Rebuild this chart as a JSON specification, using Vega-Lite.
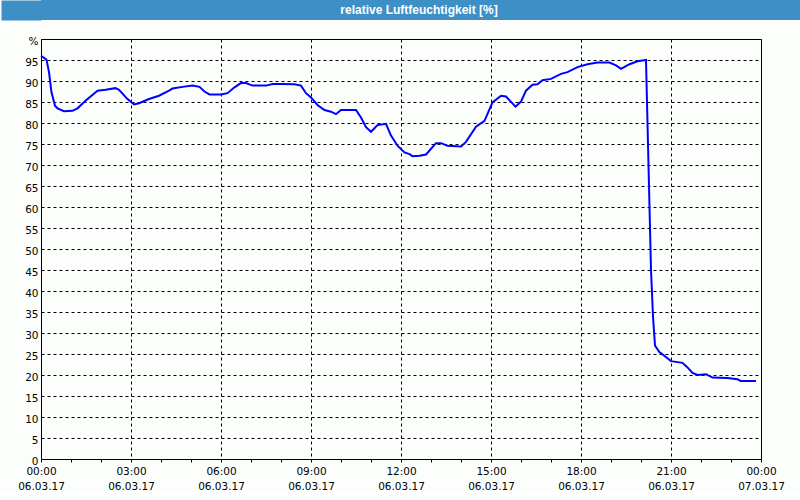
{
  "$schema": "https://vega.github.io/schema/vega-lite/v6.json",
  "padding": 0,
  "background": "#fcfefc",
  "spacing": 15,
  "config": {"view": {"stroke": null}, "font": "DejaVu Sans"},
  "vconcat": [
    {
      "width": 760,
      "height": 20,
      "view": {"fill": "#3d8fc6", "stroke": null},
      "data": {"values": [{"title": "relative Luftfeuchtigkeit [%]"}]},
      "mark": {"type": "text", "color": "#ffffff", "font": "Liberation Sans", "fontWeight": "bold", "fontSize": 12, "dx": -2},
      "encoding": {
        "text": {"field": "title", "type": "nominal"},
        "y": {
          "datum": 0,
          "type": "quantitative",
          "scale": {"domain": [-1, 1]},
          "axis": {"title": null, "labels": false, "ticks": false, "grid": false, "domainColor": "#3d8fc6", "domainWidth": 40, "domainCap": "butt", "offset": 20, "minExtent": 0, "maxExtent": 0}
        }
      }
    },
    {
      "width": 720,
      "height": 420,
      "view": {"stroke": "#000000", "strokeWidth": 1, "fill": "#fcfefc"},
      "data": {
        "values": [
          {"time": "2017-03-06T00:00:00Z", "rh": 96.0},
          {"time": "2017-03-06T00:11:00Z", "rh": 95.1},
          {"time": "2017-03-06T00:16:00Z", "rh": 92.1},
          {"time": "2017-03-06T00:21:00Z", "rh": 87.3},
          {"time": "2017-03-06T00:28:00Z", "rh": 84.1},
          {"time": "2017-03-06T00:33:00Z", "rh": 83.5},
          {"time": "2017-03-06T00:46:00Z", "rh": 82.8},
          {"time": "2017-03-06T01:03:00Z", "rh": 82.9},
          {"time": "2017-03-06T01:13:00Z", "rh": 83.5},
          {"time": "2017-03-06T01:29:00Z", "rh": 85.3},
          {"time": "2017-03-06T01:53:00Z", "rh": 87.7},
          {"time": "2017-03-06T02:09:00Z", "rh": 87.9},
          {"time": "2017-03-06T02:29:00Z", "rh": 88.3},
          {"time": "2017-03-06T02:36:00Z", "rh": 87.9},
          {"time": "2017-03-06T02:53:00Z", "rh": 85.7},
          {"time": "2017-03-06T03:06:00Z", "rh": 84.4},
          {"time": "2017-03-06T03:16:00Z", "rh": 84.7},
          {"time": "2017-03-06T03:36:00Z", "rh": 85.7},
          {"time": "2017-03-06T03:56:00Z", "rh": 86.5},
          {"time": "2017-03-06T04:16:00Z", "rh": 87.7},
          {"time": "2017-03-06T04:23:00Z", "rh": 88.2},
          {"time": "2017-03-06T04:43:00Z", "rh": 88.6},
          {"time": "2017-03-06T05:03:00Z", "rh": 88.9},
          {"time": "2017-03-06T05:17:00Z", "rh": 88.6},
          {"time": "2017-03-06T05:27:00Z", "rh": 87.5},
          {"time": "2017-03-06T05:37:00Z", "rh": 86.8},
          {"time": "2017-03-06T06:00:00Z", "rh": 86.8},
          {"time": "2017-03-06T06:13:00Z", "rh": 87.1},
          {"time": "2017-03-06T06:27:00Z", "rh": 88.5},
          {"time": "2017-03-06T06:40:00Z", "rh": 89.5},
          {"time": "2017-03-06T06:50:00Z", "rh": 89.5},
          {"time": "2017-03-06T07:03:00Z", "rh": 88.9},
          {"time": "2017-03-06T07:30:00Z", "rh": 88.9},
          {"time": "2017-03-06T07:43:00Z", "rh": 89.3},
          {"time": "2017-03-06T08:00:00Z", "rh": 89.3},
          {"time": "2017-03-06T08:27:00Z", "rh": 89.2},
          {"time": "2017-03-06T08:40:00Z", "rh": 88.9},
          {"time": "2017-03-06T08:50:00Z", "rh": 87.1},
          {"time": "2017-03-06T09:00:00Z", "rh": 86.1},
          {"time": "2017-03-06T09:13:00Z", "rh": 84.3},
          {"time": "2017-03-06T09:27:00Z", "rh": 83.1},
          {"time": "2017-03-06T09:40:00Z", "rh": 82.7},
          {"time": "2017-03-06T09:50:00Z", "rh": 82.1},
          {"time": "2017-03-06T10:00:00Z", "rh": 83.1},
          {"time": "2017-03-06T10:30:00Z", "rh": 83.1},
          {"time": "2017-03-06T10:40:00Z", "rh": 81.3},
          {"time": "2017-03-06T10:50:00Z", "rh": 79.0},
          {"time": "2017-03-06T11:00:00Z", "rh": 77.9},
          {"time": "2017-03-06T11:13:00Z", "rh": 79.5},
          {"time": "2017-03-06T11:30:00Z", "rh": 79.8},
          {"time": "2017-03-06T11:40:00Z", "rh": 77.0},
          {"time": "2017-03-06T11:53:00Z", "rh": 74.6},
          {"time": "2017-03-06T12:07:00Z", "rh": 73.0},
          {"time": "2017-03-06T12:17:00Z", "rh": 72.6},
          {"time": "2017-03-06T12:23:00Z", "rh": 72.1},
          {"time": "2017-03-06T12:37:00Z", "rh": 72.2},
          {"time": "2017-03-06T12:50:00Z", "rh": 72.5},
          {"time": "2017-03-06T13:10:00Z", "rh": 75.2},
          {"time": "2017-03-06T13:20:00Z", "rh": 75.2},
          {"time": "2017-03-06T13:33:00Z", "rh": 74.6},
          {"time": "2017-03-06T14:00:00Z", "rh": 74.4},
          {"time": "2017-03-06T14:10:00Z", "rh": 75.5},
          {"time": "2017-03-06T14:30:00Z", "rh": 79.1},
          {"time": "2017-03-06T14:47:00Z", "rh": 80.5},
          {"time": "2017-03-06T15:03:00Z", "rh": 84.9},
          {"time": "2017-03-06T15:20:00Z", "rh": 86.5},
          {"time": "2017-03-06T15:30:00Z", "rh": 86.3},
          {"time": "2017-03-06T15:49:00Z", "rh": 83.9},
          {"time": "2017-03-06T16:00:00Z", "rh": 85.1},
          {"time": "2017-03-06T16:10:00Z", "rh": 87.7},
          {"time": "2017-03-06T16:23:00Z", "rh": 89.1},
          {"time": "2017-03-06T16:33:00Z", "rh": 89.2},
          {"time": "2017-03-06T16:43:00Z", "rh": 90.2},
          {"time": "2017-03-06T17:00:00Z", "rh": 90.5},
          {"time": "2017-03-06T17:20:00Z", "rh": 91.7},
          {"time": "2017-03-06T17:33:00Z", "rh": 92.1},
          {"time": "2017-03-06T17:53:00Z", "rh": 93.3},
          {"time": "2017-03-06T18:13:00Z", "rh": 94.0},
          {"time": "2017-03-06T18:33:00Z", "rh": 94.4},
          {"time": "2017-03-06T18:57:00Z", "rh": 94.4},
          {"time": "2017-03-06T19:10:00Z", "rh": 93.7},
          {"time": "2017-03-06T19:20:00Z", "rh": 92.9},
          {"time": "2017-03-06T19:37:00Z", "rh": 94.0},
          {"time": "2017-03-06T19:53:00Z", "rh": 94.7},
          {"time": "2017-03-06T20:10:00Z", "rh": 95.0},
          {"time": "2017-03-06T20:12:00Z", "rh": 85.0},
          {"time": "2017-03-06T20:14:00Z", "rh": 75.0},
          {"time": "2017-03-06T20:16:00Z", "rh": 65.0},
          {"time": "2017-03-06T20:18:00Z", "rh": 55.0},
          {"time": "2017-03-06T20:20:00Z", "rh": 45.0},
          {"time": "2017-03-06T20:24:00Z", "rh": 34.0},
          {"time": "2017-03-06T20:28:00Z", "rh": 27.0},
          {"time": "2017-03-06T20:37:00Z", "rh": 25.4},
          {"time": "2017-03-06T20:40:00Z", "rh": 25.2},
          {"time": "2017-03-06T20:53:00Z", "rh": 24.0},
          {"time": "2017-03-06T21:00:00Z", "rh": 23.3},
          {"time": "2017-03-06T21:23:00Z", "rh": 22.9},
          {"time": "2017-03-06T21:33:00Z", "rh": 21.8},
          {"time": "2017-03-06T21:43:00Z", "rh": 20.5},
          {"time": "2017-03-06T21:53:00Z", "rh": 20.0},
          {"time": "2017-03-06T22:10:00Z", "rh": 20.2},
          {"time": "2017-03-06T22:23:00Z", "rh": 19.4},
          {"time": "2017-03-06T22:53:00Z", "rh": 19.3},
          {"time": "2017-03-06T23:13:00Z", "rh": 19.0},
          {"time": "2017-03-06T23:19:00Z", "rh": 18.6},
          {"time": "2017-03-06T23:50:00Z", "rh": 18.6}
        ]
      },
      "mark": {"type": "line", "color": "#0000ff", "strokeWidth": 2},
      "encoding": {
        "x": {
          "field": "time",
          "type": "temporal",
          "scale": {
            "type": "utc",
            "nice": false,
            "domain": [
              {"year": 2017, "month": 3, "date": 6, "utc": true},
              {"year": 2017, "month": 3, "date": 7, "utc": true}
            ]
          },
          "axis": {
            "title": null,
            "values": [
              {"year": 2017, "month": 3, "date": 6, "hours": 0, "utc": true},
              {"year": 2017, "month": 3, "date": 6, "hours": 1, "utc": true},
              {"year": 2017, "month": 3, "date": 6, "hours": 2, "utc": true},
              {"year": 2017, "month": 3, "date": 6, "hours": 3, "utc": true},
              {"year": 2017, "month": 3, "date": 6, "hours": 4, "utc": true},
              {"year": 2017, "month": 3, "date": 6, "hours": 5, "utc": true},
              {"year": 2017, "month": 3, "date": 6, "hours": 6, "utc": true},
              {"year": 2017, "month": 3, "date": 6, "hours": 7, "utc": true},
              {"year": 2017, "month": 3, "date": 6, "hours": 8, "utc": true},
              {"year": 2017, "month": 3, "date": 6, "hours": 9, "utc": true},
              {"year": 2017, "month": 3, "date": 6, "hours": 10, "utc": true},
              {"year": 2017, "month": 3, "date": 6, "hours": 11, "utc": true},
              {"year": 2017, "month": 3, "date": 6, "hours": 12, "utc": true},
              {"year": 2017, "month": 3, "date": 6, "hours": 13, "utc": true},
              {"year": 2017, "month": 3, "date": 6, "hours": 14, "utc": true},
              {"year": 2017, "month": 3, "date": 6, "hours": 15, "utc": true},
              {"year": 2017, "month": 3, "date": 6, "hours": 16, "utc": true},
              {"year": 2017, "month": 3, "date": 6, "hours": 17, "utc": true},
              {"year": 2017, "month": 3, "date": 6, "hours": 18, "utc": true},
              {"year": 2017, "month": 3, "date": 6, "hours": 19, "utc": true},
              {"year": 2017, "month": 3, "date": 6, "hours": 20, "utc": true},
              {"year": 2017, "month": 3, "date": 6, "hours": 21, "utc": true},
              {"year": 2017, "month": 3, "date": 6, "hours": 22, "utc": true},
              {"year": 2017, "month": 3, "date": 6, "hours": 23, "utc": true},
              {"year": 2017, "month": 3, "date": 7, "hours": 0, "utc": true}
            ],
            "grid": true,
            "gridColor": "#000000",
            "gridDash": [3, 3],
            "gridOpacity": {"condition": {"test": "utchours(datum.value) % 3 == 0", "value": 1}, "value": 0},
            "tickSize": 3,
            "tickColor": "#000000",
            "domainColor": "#000000",
            "labelExpr": "utchours(datum.value) % 3 == 0 ? [utcFormat(datum.value, '%H:%M'), utcFormat(datum.value, '%d.%m.%y')] : ''",
            "labelFlush": false,
            "labelOverlap": false,
            "labelBound": false,
            "labelPadding": 4,
            "labelLineHeight": 15,
            "labelColor": "#000000",
            "labelFont": "DejaVu Sans",
            "labelFontSize": 10.5
          }
        },
        "y": {
          "field": "rh",
          "type": "quantitative",
          "scale": {"domain": [0, 100], "nice": false},
          "axis": {
            "title": null,
            "values": [0, 5, 10, 15, 20, 25, 30, 35, 40, 45, 50, 55, 60, 65, 70, 75, 80, 85, 90, 95, 100],
            "grid": true,
            "gridColor": "#000000",
            "gridDash": [3, 3],
            "ticks": false,
            "domainColor": "#000000",
            "labelExpr": "datum.value == 100 ? '%' : datum.label",
            "labelOffset": 2,
            "labelPadding": 3,
            "labelOverlap": false,
            "labelFlush": false,
            "labelBound": false,
            "labelColor": "#000000",
            "labelFont": "DejaVu Sans",
            "labelFontSize": 10.5,
            "minExtent": 40,
            "maxExtent": 40
          }
        }
      }
    }
  ]
}
